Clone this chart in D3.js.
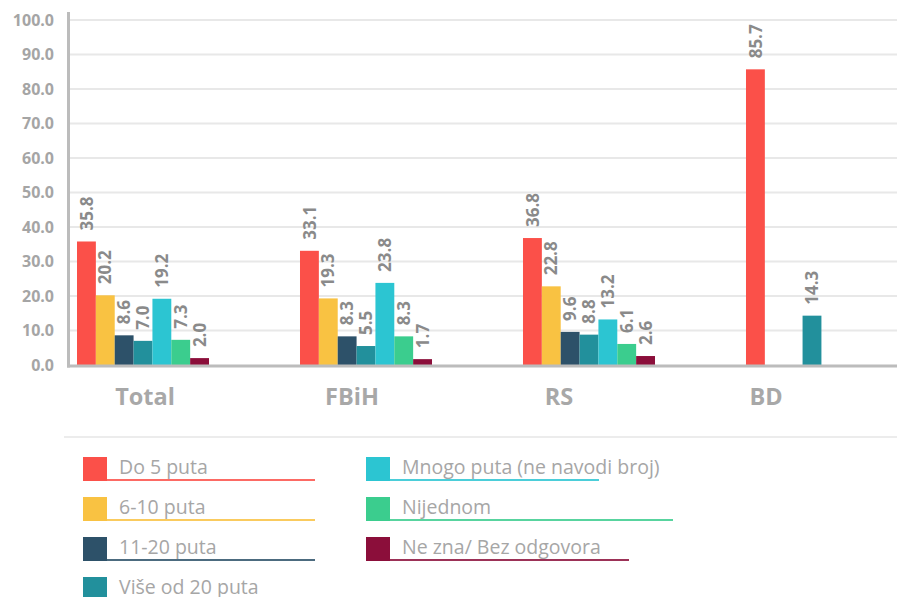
<!DOCTYPE html>
<html>
<head>
<meta charset="utf-8">
<script src="https://cdn.jsdelivr.net/npm/d3@7"></script>
<style>
  html, body { margin: 0; padding: 0; background: #ffffff; }
  svg { display: block; }
</style>
</head>
<body>
<svg id="chart" width="897" height="597"></svg>
<script>
// Regions shown along the x axis
const categories = ["Total", "FBiH", "RS", "BD"];

// Series names (legend order) and their values per region
const seriesNames = [
  "Do 5 puta",
  "6-10 puta",
  "11-20 puta",
  "Više od 20 puta",
  "Mnogo puta (ne navodi broj)",
  "Nijednom",
  "Ne zna/ Bez odgovora"
];
const do5Puta      = [35.8, 33.1, 36.8, 85.7];
const od6do10Puta  = [20.2, 19.3, 22.8, 0];
const od11do20Puta = [8.6, 8.3, 9.6, 0];
const viseOd20Puta = [7.0, 5.5, 8.8, 14.3];
const mnogoPuta    = [19.2, 23.8, 13.2, 0];
const nijednom     = [7.3, 8.3, 6.1, 0];
const neZna        = [2.0, 1.7, 2.6, 0];

const yTicks = [0, 10, 20, 30, 40, 50, 60, 70, 80, 90, 100];

// Series colours
const colors = ["#fb5049", "#f9c242", "#2d5169", "#22909c", "#2cc5d2", "#3bcd8e", "#8b0e3a"];

const seriesValues = [do5Puta, od6do10Puta, od11do20Puta, viseOd20Puta, mnogoPuta, nijednom, neZna];

const svg = d3.select("#chart");
const FONT = "'Open Sans', sans-serif";

// Scales
const y = d3.scaleLinear().domain([0, 100]).range([365, 20]);
const x0 = d3.scaleBand().domain(categories).range([77, 878]).paddingInner(0.408).paddingOuter(0);
const x1 = d3.scaleBand().domain(d3.range(seriesNames.length)).range([0, x0.bandwidth()]).padding(0);
const xLabel = d3.scalePoint().domain(categories).range([145, 766]);

// Horizontal gridlines
svg.append("g")
  .selectAll("line")
  .data(yTicks.filter(t => t > 0))
  .join("line")
  .attr("x1", 70).attr("x2", 897)
  .attr("y1", d => y(d)).attr("y2", d => y(d))
  .attr("stroke", "#e8e8e8").attr("stroke-width", 2);

// Y tick labels
svg.append("g")
  .selectAll("text")
  .data(yTicks)
  .join("text")
  .attr("x", 54)
  .attr("y", d => y(d))
  .attr("dy", "0.36em")
  .attr("text-anchor", "end")
  .attr("font-family", FONT)
  .attr("font-weight", 700)
  .attr("font-size", 16)
  .attr("fill", "#a5a5a5")
  .text(d => d.toFixed(1));

// Bars grouped by region
const rows = categories.map((c, i) => ({
  cat: c,
  vals: seriesValues.map((s, k) => ({ k, v: s[i] }))
}));

const groups = svg.append("g")
  .selectAll("g")
  .data(rows)
  .join("g")
  .attr("transform", d => `translate(${x0(d.cat)},0)`);

groups.selectAll("rect")
  .data(d => d.vals.filter(e => e.v > 0))
  .join("rect")
  .attr("x", e => x1(e.k))
  .attr("y", e => y(e.v))
  .attr("width", x1.bandwidth())
  .attr("height", e => y(0) - y(e.v))
  .attr("fill", e => colors[e.k]);

// Rotated value labels above each bar
groups.selectAll("text")
  .data(d => d.vals.filter(e => e.v > 0))
  .join("text")
  .attr("transform", e => `translate(${x1(e.k) + x1.bandwidth() / 2},${y(e.v) - 11}) rotate(-90)`)
  .attr("dy", "0.36em")
  .attr("text-anchor", "start")
  .attr("font-family", FONT)
  .attr("font-weight", 700)
  .attr("font-size", 17)
  .attr("fill", "#8a8a8a")
  .text(e => e.v.toFixed(1));

// Axis lines
svg.append("line")
  .attr("x1", 68.5).attr("x2", 68.5)
  .attr("y1", 12).attr("y2", 367.5)
  .attr("stroke", "#bcbcbc").attr("stroke-width", 3);
svg.append("line")
  .attr("x1", 67).attr("x2", 897)
  .attr("y1", 366).attr("y2", 366)
  .attr("stroke", "#bcbcbc").attr("stroke-width", 3);

// Category labels
svg.append("g")
  .selectAll("text")
  .data(categories)
  .join("text")
  .attr("x", d => xLabel(d))
  .attr("y", 405)
  .attr("text-anchor", "middle")
  .attr("font-family", FONT)
  .attr("font-weight", 700)
  .attr("font-size", 23.5)
  .attr("fill", "#a8a8a8")
  .text(d => d);

// Separator above the legend
svg.append("line")
  .attr("x1", 64).attr("x2", 897)
  .attr("y1", 437).attr("y2", 437)
  .attr("stroke", "#ececec").attr("stroke-width", 2);

// Legend: two columns, each entry underlined in its colour
const legendCols = [83, 366];
const legendTop = 457;
const legendRow = 40;
const legendRuleEnd = [315, 315, 315, 315, 599, 673, 629];

const legendItems = seriesNames.map((name, k) => {
  const col = k < 4 ? 0 : 1;
  const row = k < 4 ? k : k - 4;
  return { name, k, lx: legendCols[col], ly: legendTop + row * legendRow };
});

const leg = svg.append("g")
  .selectAll("g")
  .data(legendItems)
  .join("g")
  .attr("transform", d => `translate(${d.lx},${d.ly})`);

leg.append("line")
  .attr("x1", 24)
  .attr("x2", d => legendRuleEnd[d.k] - d.lx)
  .attr("y1", 23).attr("y2", 23)
  .attr("stroke", d => colors[d.k])
  .attr("stroke-opacity", 0.85)
  .attr("stroke-width", 2);

leg.append("rect")
  .attr("width", 24).attr("height", 24)
  .attr("fill", d => colors[d.k]);

leg.append("text")
  .attr("x", 36)
  .attr("y", 17)
  .attr("font-family", FONT)
  .attr("font-size", 19.5)
  .attr("fill", "#a6a6a6")
  .text(d => d.name);
</script>
</body>
</html>
